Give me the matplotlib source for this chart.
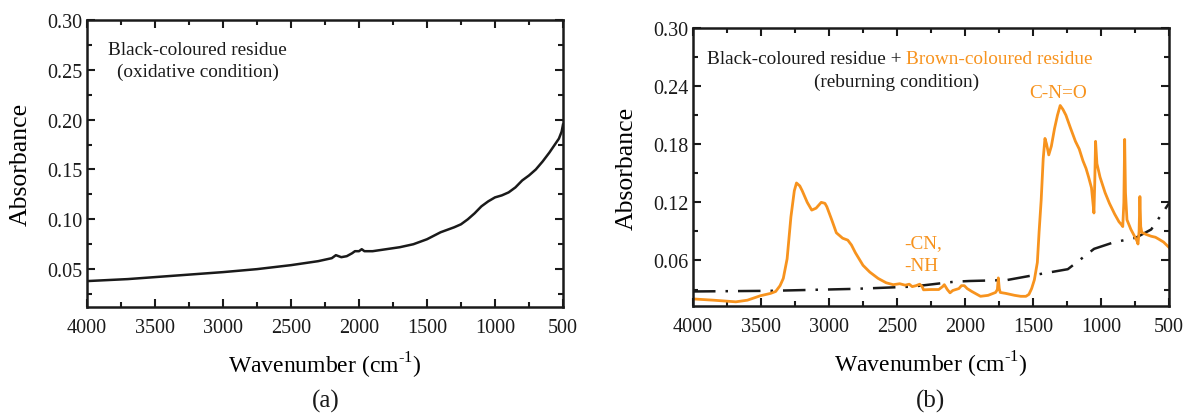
import matplotlib
matplotlib.use("Agg")
import matplotlib.pyplot as plt
from matplotlib.ticker import MultipleLocator

plt.rcParams['font.family'] = ['Liberation Serif', 'DejaVu Serif']
plt.rcParams['mathtext.fontset'] = 'custom'
plt.rcParams['mathtext.rm'] = 'Liberation Serif'
plt.rcParams['axes.unicode_minus'] = False

ORANGE = '#F7931E'

# Panel (a): black-coloured residue, oxidative condition
wn_a = [4000, 3700, 3500, 3250, 3000, 2750, 2500, 2300, 2200, 2170, 2130, 2090, 2050,
        2030, 2000, 1980, 1960, 1930, 1900, 1800, 1700, 1600, 1500, 1400, 1300,
        1250, 1200, 1150, 1100, 1050, 1000, 950, 900, 850, 800, 750, 700, 650,
        600, 560, 530, 510, 500]
abs_a = [0.038, 0.040, 0.042, 0.0445, 0.047, 0.050, 0.054, 0.058, 0.061, 0.064, 0.062,
         0.063, 0.066, 0.068, 0.068, 0.070, 0.068, 0.068, 0.068, 0.070, 0.072, 0.075,
         0.080, 0.087, 0.092, 0.095, 0.100, 0.106, 0.113, 0.118, 0.122, 0.124, 0.127,
         0.132, 0.139, 0.144, 0.150, 0.158, 0.167, 0.175, 0.181, 0.188, 0.195]

# Panel (b): brown-coloured residue (orange)
wn_b = [4000, 3850, 3685, 3600, 3504, 3430, 3392, 3360, 3336, 3308, 3280, 3255, 3239,
        3215, 3197, 3160, 3127, 3095, 3057, 3030, 3016, 2980, 2946, 2900, 2862, 2835,
        2806, 2750, 2700, 2639, 2580, 2528, 2480, 2440, 2410, 2388, 2360, 2333, 2315,
        2305, 2250, 2193, 2165, 2152, 2130, 2110, 2090, 2068, 2045, 2026, 2005, 1984,
        1950, 1886, 1830, 1775, 1762, 1755, 1748, 1741, 1700, 1635, 1590, 1552, 1530,
        1510, 1490, 1468, 1455, 1440, 1425, 1412, 1400, 1384, 1365, 1342, 1320, 1300,
        1280, 1258, 1225, 1188, 1160, 1133, 1110, 1091, 1070, 1056, 1052, 1046, 1040,
        1030, 1007, 970, 938, 900, 868, 850, 840, 832, 826, 820, 809, 780, 742, 735,
        728, 720, 714, 708, 700, 670, 631, 600, 575, 540, 500]
abs_b = [0.0203, 0.019, 0.0173, 0.019, 0.0236, 0.026, 0.028, 0.034, 0.0415, 0.0617,
         0.105, 0.132, 0.140, 0.137, 0.132, 0.120, 0.112, 0.114, 0.120, 0.119, 0.1155,
         0.102, 0.0886, 0.083, 0.081, 0.076, 0.068, 0.055, 0.048, 0.0415, 0.037, 0.035,
         0.036, 0.0345, 0.0355, 0.033, 0.034, 0.0355, 0.033, 0.0297, 0.030, 0.030,
         0.033, 0.035, 0.030, 0.0266, 0.029, 0.030, 0.031, 0.034, 0.034, 0.031, 0.028,
         0.023, 0.024, 0.027, 0.030, 0.042, 0.031, 0.027, 0.026, 0.024, 0.023, 0.023,
         0.025, 0.031, 0.040, 0.058, 0.090, 0.122, 0.165, 0.186, 0.180, 0.169, 0.178,
         0.196, 0.210, 0.220, 0.216, 0.210, 0.197, 0.183, 0.175, 0.163, 0.155, 0.146,
         0.135, 0.115, 0.109, 0.140, 0.183, 0.160, 0.146, 0.130, 0.119, 0.108, 0.100,
         0.097, 0.095, 0.120, 0.185, 0.130, 0.102, 0.092, 0.082, 0.080, 0.077, 0.090,
         0.126, 0.095, 0.089, 0.087, 0.085, 0.084, 0.082, 0.079, 0.0735]

# Panel (b): black-coloured residue, reburning condition (dashed)
wn_c = [4000, 3420, 2806, 2388, 2082, 1970, 1691, 1468, 1244, 1161, 1051, 911, 742,
        631, 500]
abs_c = [0.028, 0.0287, 0.0307, 0.033, 0.038, 0.0388, 0.0398, 0.0455, 0.051, 0.060,
         0.072, 0.0785, 0.0836, 0.092, 0.119]

fig = plt.figure(figsize=(11.84, 4.14), dpi=100)
ax1 = fig.add_axes([87/1184, 1-308/414, 476/1184, 287/414])
ax2 = fig.add_axes([693/1184, 1-307/414, 476/1184, 278/414])

ax1.plot(wn_a, abs_a, color='#1a1a1a', lw=1.8)
ax2.plot(wn_c, abs_c, color='#1a1a1a', lw=1.8, dashes=(9, 4, 1, 4))
ax2.plot(wn_b, abs_b, color=ORANGE, lw=2.0)

for ax in (ax1, ax2):
    ax.set_xlim(4000, 500)
    ax.xaxis.set_major_locator(MultipleLocator(500))
    ax.xaxis.set_minor_locator(MultipleLocator(250))
    ax.tick_params(which='both', direction='in', top=True, right=True, width=1.5,
                   labelsize=14.5, colors='#1a1a1a')
    ax.tick_params(which='major', length=6)
    ax.tick_params(which='minor', length=3.5)
    ax.tick_params(axis='x', pad=8)
    for s in ax.spines.values():
        s.set_linewidth(1.8)
        s.set_color('#1a1a1a')
    ax.set_xlabel('Wavenumber (cm$^{\\text{-1}}$)', fontsize=17, labelpad=9)
    ax.set_ylabel('Absorbance', fontsize=18.5, labelpad=11)

ax1.set_ylim(0.012, 0.30)
ax1.yaxis.set_major_locator(MultipleLocator(0.05))
ax1.yaxis.set_minor_locator(MultipleLocator(0.025))
ax1.yaxis.set_major_formatter(plt.FormatStrFormatter('%.2f'))

ax2.set_ylim(0.013, 0.30)
ax2.yaxis.set_major_locator(MultipleLocator(0.06))
ax2.yaxis.set_minor_locator(MultipleLocator(0.03))
ax2.yaxis.set_major_formatter(plt.FormatStrFormatter('%.2f'))

FS = 13.9
ax1.text(3185, 0.270, 'Black-coloured residue', ha='center', va='center', fontsize=FS,
         color='#1a1a1a')
ax1.text(3185, 0.248, '(oxidative condition)', ha='center', va='center', fontsize=FS,
         color='#1a1a1a')

t = ax2.text(3900, 0.269, 'Black-coloured residue + ', ha='left', va='center',
             fontsize=FS, color='#1a1a1a')
fig.canvas.draw()
ax2.annotate('Brown-coloured residue', xycoords=t, xy=(1, 0.5), ha='left', va='center',
             fontsize=FS, color=ORANGE)
ax2.text(2505, 0.2445, '(reburning condition)', ha='center', va='center', fontsize=FS,
         color='#1a1a1a')
ax2.text(1315, 0.233, 'C-N=O', ha='center', va='center', fontsize=FS, color=ORANGE)
ax2.text(2450, 0.0785, '-CN,', ha='left', va='center', fontsize=FS, color=ORANGE)
ax2.text(2450, 0.055, '-NH', ha='left', va='center', fontsize=FS, color=ORANGE)

fig.text(326/1184, 1-401/414, '(a)', ha='center', va='center', fontsize=18,
         color='#1a1a1a')
fig.text(930/1184, 1-401/414, '(b)', ha='center', va='center', fontsize=18,
         color='#1a1a1a')

fig.savefig('out.png', dpi=100)
